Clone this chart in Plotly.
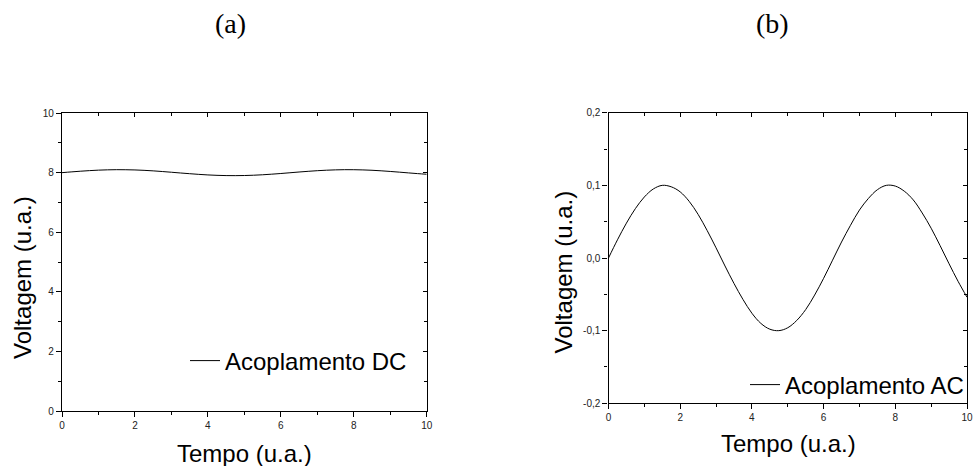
import plotly.graph_objects as go

# ---- data ----
tempo = [0, 0.25, 0.5, 0.75, 1.0, 1.25, 1.5, 1.75, 2.0, 2.25, 2.5, 2.75, 3.0, 3.25,
         3.5, 3.75, 4.0, 4.25, 4.5, 4.75, 5.0, 5.25, 5.5, 5.75, 6.0, 6.25, 6.5,
         6.75, 7.0, 7.25, 7.5, 7.75, 8.0, 8.25, 8.5, 8.75, 9.0, 9.25, 9.5, 9.75, 10.0]

voltagem_dc = [8.000, 8.025, 8.048, 8.068, 8.084, 8.095, 8.100, 8.098, 8.091, 8.078,
               8.060, 8.038, 8.014, 7.989, 7.965, 7.943, 7.924, 7.910, 7.902, 7.900,
               7.904, 7.914, 7.929, 7.949, 7.972, 7.997, 8.022, 8.045, 8.066, 8.082,
               8.094, 8.100, 8.099, 8.092, 8.080, 8.062, 8.041, 8.017, 7.992, 7.968,
               7.946]

voltagem_ac = [0.000, 0.025, 0.048, 0.068, 0.084, 0.095, 0.100, 0.098, 0.091, 0.078,
               0.060, 0.038, 0.014, -0.011, -0.035, -0.057, -0.076, -0.090, -0.098,
               -0.100, -0.096, -0.086, -0.071, -0.051, -0.028, -0.003, 0.022, 0.045,
               0.066, 0.082, 0.094, 0.100, 0.099, 0.092, 0.080, 0.062, 0.041, 0.017,
               -0.008, -0.032, -0.054]

x_ticks = [0, 2, 4, 6, 8, 10]
x_ticktext = ["0", "2", "4", "6", "8", "10"]
dc_ticks = [0, 2, 4, 6, 8, 10]
dc_ticktext = ["0", "2", "4", "6", "8", "10"]
ac_ticks = [-0.2, -0.1, 0.0, 0.1, 0.2]
ac_ticktext = ["-0,2", "-0,1", "0,0", "0,1", "0,2"]

label_dc = "Acoplamento DC"
label_ac = "Acoplamento AC"
panel_titles = ["(a)", "(b)"]
x_title = "Tempo (u.a.)"
y_title = "Voltagem (u.a.)"

W, H = 974, 466
SANS = "Liberation Sans, Arial, sans-serif"
SERIF = "Liberation Serif, Times New Roman, serif"
BIG = 24

fig = go.Figure()

fig.add_trace(go.Scatter(x=tempo, y=voltagem_dc, mode="lines", name=label_dc,
                         line=dict(color="black", width=1, shape="spline"),
                         xaxis="x", yaxis="y", legend="legend"))
fig.add_trace(go.Scatter(x=tempo, y=voltagem_ac, mode="lines", name=label_ac,
                         line=dict(color="black", width=1, shape="spline"),
                         xaxis="x2", yaxis="y2", legend="legend2"))
# invisible copies so the mirrored (inside-tick) axes get drawn
fig.add_trace(go.Scatter(x=tempo, y=voltagem_dc, mode="lines", opacity=0,
                         showlegend=False, hoverinfo="skip", xaxis="x3", yaxis="y3"))
fig.add_trace(go.Scatter(x=tempo, y=voltagem_ac, mode="lines", opacity=0,
                         showlegend=False, hoverinfo="skip", xaxis="x4", yaxis="y4"))

L_dom_x = [62 / W, 426.7 / W]
L_dom_y = [1 - 411.3 / H, 1 - 113 / H]
R_dom_x = [608.5 / W, 967 / W]
R_dom_y = [1 - 403.3 / H, 1 - 112.7 / H]

axis_common = dict(showline=True, linecolor="black", linewidth=1.3, showgrid=False,
                   zeroline=False, tickcolor="black", tickwidth=1, automargin=False,
                   tickfont=dict(family=SANS, size=10, color="#222"))
outside = dict(ticks="outside", ticklen=5,
               minor=dict(ticks="outside", ticklen=3, tickcolor="black", tickwidth=1))
inside = dict(ticks="inside", ticklen=4, showticklabels=False,
              minor=dict(ticks="inside", ticklen=3, tickcolor="black", tickwidth=1))

fig.update_layout(
    template="none",
    width=W, height=H,
    margin=dict(l=0, r=0, t=0, b=0, pad=0, autoexpand=False),
    paper_bgcolor="white", plot_bgcolor="white",
    xaxis=dict(domain=L_dom_x, anchor="y", range=[0, 10], tickvals=x_ticks,
               ticktext=x_ticktext, minor_dtick=1, **axis_common, **outside),
    yaxis=dict(domain=L_dom_y, anchor="x", range=[0, 10], tickvals=dc_ticks,
               ticktext=dc_ticktext, minor_dtick=1, **axis_common, **outside),
    xaxis3=dict(overlaying="x", anchor="y", side="top", range=[0, 10],
                tickvals=x_ticks, minor_dtick=1, **axis_common, **inside),
    yaxis3=dict(overlaying="y", anchor="x", side="right", range=[0, 10],
                tickvals=dc_ticks, minor_dtick=1, **axis_common, **inside),
    xaxis2=dict(domain=R_dom_x, anchor="y2", range=[0, 10], tickvals=x_ticks,
                ticktext=x_ticktext, minor_dtick=1, **axis_common, **outside),
    yaxis2=dict(domain=R_dom_y, anchor="x2", range=[-0.2, 0.2], tickvals=ac_ticks,
                ticktext=ac_ticktext, minor_dtick=0.05, **axis_common, **outside),
    xaxis4=dict(overlaying="x2", anchor="y2", side="top", range=[0, 10],
                tickvals=x_ticks, minor_dtick=1, **axis_common, **inside),
    yaxis4=dict(overlaying="y2", anchor="x2", side="right", range=[-0.2, 0.2],
                tickvals=ac_ticks, minor_dtick=0.05, **axis_common, **inside),
    legend=dict(x=185 / W, y=1 - 361 / H, xanchor="left", yanchor="middle",
                bgcolor="rgba(0,0,0,0)", itemwidth=30, borderwidth=0,
                font=dict(family=SANS, size=BIG, color="black")),
    legend2=dict(x=745 / W, y=1 - 385 / H, xanchor="left", yanchor="middle",
                 bgcolor="rgba(0,0,0,0)", itemwidth=30, borderwidth=0,
                 font=dict(family=SANS, size=BIG, color="black")),
    showlegend=True,
)

annotations = [
    dict(text=panel_titles[0], x=230 / W, y=1 - 23 / H),
    dict(text=panel_titles[1], x=772 / W, y=1 - 23 / H),
]
for a in annotations:
    a.update(xref="paper", yref="paper", showarrow=False, xanchor="center",
             yanchor="middle", font=dict(family=SERIF, size=28, color="black"))

titles = [
    dict(text=x_title, x=244 / W, y=1 - 453 / H, textangle=0),
    dict(text=x_title, x=788 / W, y=1 - 443 / H, textangle=0),
    dict(text=y_title, x=22 / W, y=1 - 278 / H, textangle=-90),
    dict(text=y_title, x=563 / W, y=1 - 272.5 / H, textangle=-90),
]
for a in titles:
    a.update(xref="paper", yref="paper", showarrow=False, xanchor="center",
             yanchor="middle", font=dict(family=SANS, size=BIG, color="black"))

fig.update_layout(annotations=annotations + titles)

fig.write_html(
    "out.html",
    config={"displayModeBar": False},
    post_script="document.body.style.margin='0';document.body.style.overflow='hidden';",
)
